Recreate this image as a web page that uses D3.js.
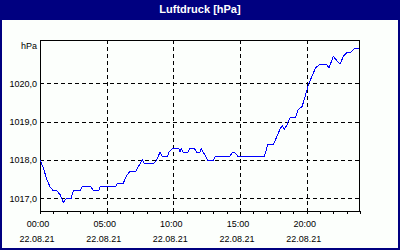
<!DOCTYPE html>
<html>
<head>
<meta charset="UTF-8">
<style>
  body { margin: 0; background: #fff; }
  text { font-family: "Liberation Sans", Arial, sans-serif; }
  .grid line { stroke: #000; stroke-dasharray: 4,3; shape-rendering: crispEdges; }
</style>
</head>
<body>
<svg></svg>
<script src="https://d3js.org/d3.v7.min.js"></script>
<script>
let width = 400, height = 250;

// readings of the day, time + hPa
let times = ["00:00","00:15","00:30","00:45","01:00","01:15","01:30","01:45","02:00","02:20",
  "02:30","03:00","03:10","03:50","04:00","04:25","04:30","05:40","05:50","06:15",
  "06:30","06:45","07:10","07:20","07:40","07:50","08:30","08:45","09:00","09:10",
  "09:35","09:40","09:55","10:25","10:30","10:35","10:45","11:05","11:15","11:35",
  "11:45","12:00","12:05","12:25","12:35","13:00","13:10","14:15","14:25","14:35",
  "14:50","16:50","17:05","17:30","17:45","18:00","18:10","18:20","18:30","18:45",
  "19:10","19:20","19:40","19:50","20:00","20:10","20:25","20:40","21:00","21:30",
  "21:40","22:00","22:15","22:30","22:45","23:00","23:15","23:35","23:55"];
let pressure = [1018.0,1017.8,1017.5,1017.3,1017.2,1017.2,1017.1,1016.9,1017.0,1017.0,
  1017.2,1017.2,1017.3,1017.3,1017.2,1017.2,1017.3,1017.3,1017.4,1017.4,
  1017.6,1017.7,1017.7,1017.8,1018.0,1017.9,1017.9,1018.0,1018.2,1018.1,
  1018.1,1018.2,1018.3,1018.3,1018.2,1018.3,1018.2,1018.2,1018.3,1018.3,
  1018.2,1018.2,1018.3,1018.1,1018.0,1018.0,1018.1,1018.1,1018.2,1018.2,
  1018.1,1018.1,1018.4,1018.4,1018.6,1018.8,1018.9,1018.8,1018.9,1019.1,
  1019.1,1019.3,1019.4,1019.6,1019.8,1020.0,1020.2,1020.4,1020.5,1020.5,
  1020.4,1020.7,1020.6,1020.5,1020.7,1020.8,1020.8,1020.9,1020.9];
let yTicks = [1017, 1018, 1019, 1020];
let xLabelHours = [0, 5, 10, 15, 20];
let dateLabel = "22.08.21";

let toHours = s => { let p = s.split(":"); return +p[0] + p[1] / 60; };
let data = times.map((t, i) => ({h: toHours(t), v: pressure[i]}));

let svg = d3.select("svg").attr("width", width).attr("height", height);

// frame + title bar
svg.append("rect").attr("width", width).attr("height", height).attr("fill", "#000080");
svg.append("rect").attr("x", 2).attr("y", 20).attr("width", width - 4).attr("height", height - 22)
  .attr("fill", "#fcfffc");
svg.append("text").attr("x", 200).attr("y", 13).attr("text-anchor", "middle")
  .attr("fill", "#fff").attr("font-size", 11).attr("font-weight", "bold")
  .text("Luftdruck [hPa]");

let x = d3.scaleLinear().domain([0, 24]).range([40, 360]);
let y = d3.scaleLinear().domain([1016.67, 1021.13]).range([211, 40]);

let fmt = d3.formatLocale({decimal: ",", thousands: "", grouping: [3], currency: ["", ""]}).format(".1f");

// grid
let grid = svg.append("g").attr("class", "grid");
grid.selectAll(".gy").data(yTicks).enter().append("line")
  .attr("x1", 40).attr("x2", 360)
  .attr("y1", d => Math.round(y(d)) + 0.5).attr("y2", d => Math.round(y(d)) + 0.5);
grid.selectAll(".gx").data(xLabelHours.slice(1)).enter().append("line")
  .attr("y1", 40).attr("y2", 211)
  .attr("x1", d => Math.round(x(d)) + 0.5).attr("x2", d => Math.round(x(d)) + 0.5);

// axes
let xAxis = d3.axisBottom(x).tickValues(d3.range(0, 25)).tickSize(3).tickFormat("");
svg.append("g").attr("transform", "translate(0,211)").call(xAxis)
  .call(g => g.select(".domain").remove())
  .selectAll("line").attr("stroke", "#000").attr("shape-rendering", "crispEdges");

let yAxis = d3.axisLeft(y).tickValues(yTicks).tickSize(0).tickPadding(3).tickFormat(fmt);
svg.append("g").attr("transform", "translate(40,0)").call(yAxis)
  .call(g => g.select(".domain").remove())
  .selectAll("text").attr("font-size", 9).attr("fill", "#000")
  .attr("font-family", "'Liberation Sans', Arial, sans-serif");

svg.append("text").attr("x", 37).attr("y", 49).attr("text-anchor", "end")
  .attr("font-size", 9).text("hPa");

// plot border
svg.append("path")
  .attr("d", "M40.5,211V40.5H359.5V211.5H40")
  .attr("fill", "none").attr("stroke", "#000").attr("shape-rendering", "crispEdges");

// x labels (time + date)
let xl = svg.append("g").selectAll("g").data(xLabelHours).enter().append("g")
  .attr("transform", d => "translate(" + (x(d) - 2) + ",0)");
xl.append("text").attr("y", 227).attr("text-anchor", "middle").attr("font-size", 9)
  .text(d => d3.format("02")(d) + ":00");
xl.append("text").attr("y", 242).attr("text-anchor", "middle").attr("font-size", 9)
  .attr("dx", -1).text(dateLabel);

// pressure line
let line = d3.line().x(d => x(d.h)).y(d => y(d.v));
svg.append("path").datum(data)
  .attr("d", line)
  .attr("fill", "none").attr("stroke", "#0000ff").attr("stroke-width", 1)
  .attr("shape-rendering", "crispEdges");
</script>
</body>
</html>
